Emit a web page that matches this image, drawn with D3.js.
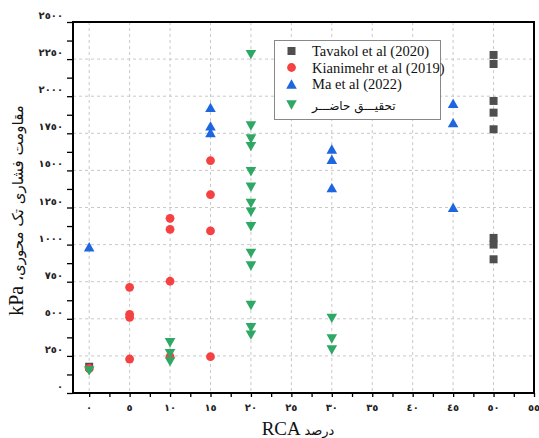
<!DOCTYPE html>
<html><head><meta charset="utf-8">
<script src="https://cdn.jsdelivr.net/npm/d3@7/dist/d3.min.js"></script>
<style>
html,body{margin:0;padding:0;background:#fff;}
svg{display:block;}
</style></head>
<body><svg id="chart" width="539" height="438"></svg>
<script>
// ---- data ----
const seriesNames = ["Tavakol et al (2020)", "Kianimehr et al (2019)", "Ma et al (2022)", "تحقیـــق حاضـــر"];
const tavakolX = [0, 50, 50, 50, 50, 50, 50, 50, 50];
const tavakolY = [177, 2278, 2217, 1968, 1889, 1777, 1045, 1000, 901];
const kianimehrX = [0, 5, 5, 5, 5, 10, 10, 10, 10, 15, 15, 15, 15];
const kianimehrY = [165, 712, 530, 510, 229, 1177, 1103, 753, 245, 1566, 1337, 1092, 245];
const maX = [0, 15, 15, 15, 30, 30, 30, 45, 45, 45];
const maY = [986, 1925, 1800, 1755, 1644, 1575, 1384, 1952, 1822, 1251];
const presentX = [0, 10, 10, 10, 20, 20, 20, 20, 20, 20, 20, 20, 20, 20, 20, 20, 20, 20, 30, 30, 30];
const presentY = [148, 339, 265, 210, 2280, 1799, 1712, 1660, 1491, 1386, 1277, 1219, 1120, 941, 856, 590, 440, 390, 503, 364, 290];
const xTicks = [0, 5, 10, 15, 20, 25, 30, 35, 40, 45, 50, 55];
const xTickLabels = ["٠", "٥", "١٠", "١٥", "٢٠", "٢٥", "٣٠", "٣٥", "٤٠", "٤٥", "٥٠", "٥٥"];
const yTicks = [0, 250, 500, 750, 1000, 1250, 1500, 1750, 2000, 2250, 2500];
const yTickLabels = ["٠", "٢٥٠", "٥٠٠", "٧٥٠", "١٠٠٠", "١٢٥٠", "١٥٠٠", "١٧٥٠", "٢٠٠٠", "٢٢٥٠", "٢٥٠٠"];
const xTitleLatin = "RCA", xTitlePersian = "درصد";
const yTitlePersian = "مقاومت فشاری تک محوری،", yTitleLatin = "kPa";

// ---- layout ----
const L = 73, R = 534, T = 22, B = 393;
const svg = d3.select("#chart");
const x = d3.scaleLinear().domain([-2, 55]).range([L, R]);
const y = d3.scaleLinear().domain([0, 2500]).range([B, T]);

const colors = ["#4f4f4f", "#f54141", "#1d66df", "#2fa865"];
const shapes = ["square", "circle", "up", "down"];

// grid
const grid = svg.append("g").attr("stroke", "#c9c9c9").attr("stroke-dasharray", "3,3").attr("stroke-width", 1);
xTicks.forEach(v => { if (v < 55) grid.append("line").attr("x1", x(v)).attr("x2", x(v)).attr("y1", T).attr("y2", B); });
yTicks.forEach(v => { if (v > 0 && v < 2500) grid.append("line").attr("x1", L).attr("x2", R).attr("y1", y(v)).attr("y2", y(v)); });

// axes
const xMinor = d3.range(0, 55.01, 2.5);
const xAxis = d3.axisBottom(x).tickValues(xMinor).tickSize(4).tickFormat("");
svg.append("g").attr("transform", `translate(0,${B})`).call(xAxis)
  .call(g => { g.select(".domain").remove(); g.selectAll("line").attr("stroke", "#000").attr("stroke-width", 1.3); });
const yMinor = d3.range(0, 2500.1, 125);
const yAxis = d3.axisLeft(y).tickValues(yMinor).tickSize(6).tickFormat("");
svg.append("g").attr("transform", `translate(${L},0)`).call(yAxis)
  .call(g => { g.select(".domain").remove(); g.selectAll("line").attr("stroke", "#000").attr("stroke-width", 1.3); });

// tick labels
svg.append("g").selectAll("text").data(xTicks).join("text")
  .attr("x", d => x(d)).attr("y", 411).attr("text-anchor", "middle")
  .attr("font-family", "DejaVu Sans").attr("font-size", 10).attr("font-weight", "bold").attr("fill", "#222")
  .text((d, i) => xTickLabels[i]);
svg.append("g").selectAll("text").data(yTicks).join("text")
  .attr("x", 63).attr("y", d => y(d) - 3).attr("text-anchor", "end")
  .attr("font-family", "DejaVu Sans").attr("font-size", 10).attr("font-weight", "bold").attr("fill", "#222")
  .text((d, i) => yTickLabels[i]);

// frame
svg.append("rect").attr("x", L).attr("y", T).attr("width", R - L).attr("height", B - T)
  .attr("fill", "none").attr("stroke", "#000").attr("stroke-width", 2);

// symbol path generator (bbox-centered)
function sym(shape, cx, cy) {
  if (shape === "square") return `M${cx - 4},${cy - 4}h8v8h-8z`;
  if (shape === "circle") return `M${cx - 4.4},${cy}a4.4,4.4 0 1,0 8.8,0a4.4,4.4 0 1,0 -8.8,0z`;
  if (shape === "up") return `M${cx},${cy - 4.7}L${cx + 5.3},${cy + 4.7}L${cx - 5.3},${cy + 4.7}z`;
  return `M${cx},${cy + 4.7}L${cx + 5.3},${cy - 4.7}L${cx - 5.3},${cy - 4.7}z`;
}

const series = [
  {xs: tavakolX, ys: tavakolY},
  {xs: kianimehrX, ys: kianimehrY},
  {xs: maX, ys: maY},
  {xs: presentX, ys: presentY}
];
series.forEach((s, k) => {
  svg.append("g").selectAll("path").data(s.xs.map((xv, i) => [xv, s.ys[i]])).join("path")
    .attr("d", d => sym(shapes[k], x(d[0]), y(d[1])))
    .attr("fill", colors[k]);
});

// legend
const lg = svg.append("g");
lg.append("rect").attr("x", 274.5).attr("y", 40.5).attr("width", 166).attr("height", 79)
  .attr("fill", "#fff").attr("stroke", "#888").attr("stroke-width", 1);
const rowsY = [51, 67.5, 84, 105];
seriesNames.forEach((n, k) => {
  lg.append("path").attr("d", sym(shapes[k], 291.5, rowsY[k])).attr("fill", colors[k]);
  lg.append("text").attr("x", 312).attr("y", rowsY[k] + 5)
    .attr("font-family", k === 3 ? "DejaVu Sans" : "Liberation Serif")
    .attr("font-size", k === 3 ? 12 : 14.5).attr("fill", "#111").text(n);
});

// axis titles
const xt = svg.append("text").attr("x", 298).attr("y", 435).attr("text-anchor", "middle").attr("fill", "#111");
xt.append("tspan").attr("font-family", "Liberation Serif").attr("font-size", 19).text(xTitleLatin + " ");
xt.append("tspan").attr("font-family", "DejaVu Sans").attr("font-size", 13).text(xTitlePersian);

const yt = svg.append("text").attr("transform", `translate(23,${(T + B) / 2 + 3}) rotate(-90)`)
  .attr("text-anchor", "middle").attr("fill", "#111");
yt.append("tspan").attr("font-family", "Liberation Serif").attr("font-size", 20).text(yTitleLatin + " ");
yt.append("tspan").attr("font-family", "DejaVu Sans").attr("font-size", 15)
  .attr("direction", "rtl").attr("unicode-bidi", "embed").text(yTitlePersian);
</script></body></html>
